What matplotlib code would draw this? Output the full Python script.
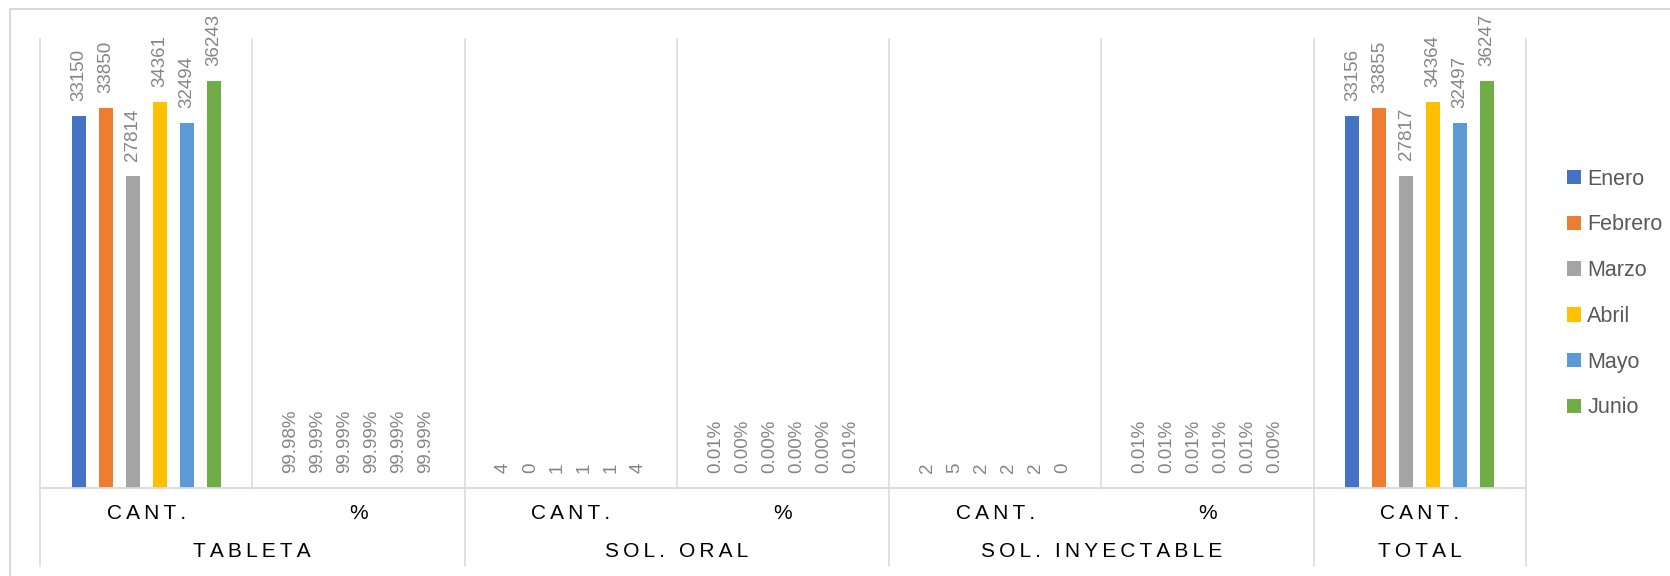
import matplotlib.pyplot as plt
import matplotlib.transforms as mtransforms
from matplotlib.lines import Line2D
import numpy as np

months = ["Enero", "Febrero", "Marzo", "Abril", "Mayo", "Junio"]
colors = ["#4472C4", "#ED7D31", "#A5A5A5", "#FFC000", "#5B9BD5", "#70AD47"]
categories = ["CANT.", "%", "CANT.", "%", "CANT.", "%", "CANT."]
is_pct = [False, True, False, True, False, True, False]
groups = ["TABLETA", "SOL. ORAL", "SOL. INYECTABLE", "TOTAL"]
group_span = [(0, 1), (2, 3), (4, 5), (6, 6)]

tableta_cant = [33150, 33850, 27814, 34361, 32494, 36243]
tableta_pct = [0.9998, 0.9999, 0.9999, 0.9999, 0.9999, 0.9999]
sol_oral_cant = [4, 0, 1, 1, 1, 4]
sol_oral_pct = [0.0001, 0.0000, 0.0000, 0.0000, 0.0000, 0.0001]
sol_iny_cant = [2, 5, 2, 2, 2, 0]
sol_iny_pct = [0.0001, 0.0001, 0.0001, 0.0001, 0.0001, 0.0000]
total_cant = [33156, 33855, 27817, 34364, 32497, 36247]

series = np.array([tableta_cant, tableta_pct, sol_oral_cant, sol_oral_pct,
                   sol_iny_cant, sol_iny_pct, total_cant], dtype=float)

grid_c = "#d9d9d9"
W, H = 1670, 576
fig = plt.figure(figsize=(W / 100, H / 100), dpi=100)
ax = fig.add_axes([40 / W, 1 - 488 / H, (1526 - 40) / W, (488 - 39) / H])

lab_font = ["Liberation Sans", "DejaVu Sans"]

x = np.arange(len(categories))
slot = 0.127
bw = 0.066
for i, m in enumerate(months):
    xs = x + (i - 2.5) * slot
    vals = series[:, i]
    ax.bar(xs, vals, width=bw, color=colors[i], label=m, zorder=3)
    for xi, v, p in zip(xs, vals, is_pct):
        txt = f"{v:.2%}" if p else f"{int(v)}"
        ax.annotate(txt, (xi, v), xytext=(0, 11), textcoords="offset points",
                    rotation=90, ha="center", va="bottom", fontsize=13.5,
                    family=lab_font, color="#858585")

ax.set_xlim(-0.5, len(categories) - 0.5)
ax.set_ylim(0, 40000)
for s in ax.spines.values():
    s.set_visible(False)
ax.set_xticks([])
ax.set_yticks([])
for b in np.arange(-0.5, len(categories), 1.0):
    ax.axvline(b, color=grid_c, lw=1.1, zorder=1, clip_on=False)
ax.axhline(0, color=grid_c, lw=1.3, zorder=4, clip_on=False)

trans = mtransforms.blended_transform_factory(ax.transData, ax.transAxes)
spaced = lambda s: "\u2009".join(s)
for xi, c in zip(x, categories):
    ax.text(xi, -0.056, spaced(c), transform=trans, ha="center", va="center",
            fontsize=15, family=lab_font, color="black")
for g, (a, b) in zip(groups, group_span):
    ax.text((a + b) / 2, -0.1425, spaced(g), transform=trans, ha="center",
            va="center", fontsize=15, family=lab_font, color="black")
for b in [-0.5, 1.5, 3.5, 5.5, 6.5]:
    ax.plot([b, b], [0, -0.1737], transform=trans, color=grid_c, lw=1.1,
            clip_on=False)

# outer chart frame
fig.add_artist(Line2D([10 / W, 1], [1 - 9 / H, 1 - 9 / H], color=grid_c, lw=1.5))
fig.add_artist(Line2D([10 / W, 10 / W], [0, 1 - 9 / H], color=grid_c, lw=1.5))

fig.legend(loc="center left", bbox_to_anchor=(1556 / W, 1 - 293.5 / H),
           frameon=False, handlelength=0.65, handleheight=0.65,
           handletextpad=0.3, labelspacing=1.15, borderpad=0,
           labelcolor="#595959", prop={"family": lab_font, "size": 15.5})

fig.savefig("out.png", dpi=100)
